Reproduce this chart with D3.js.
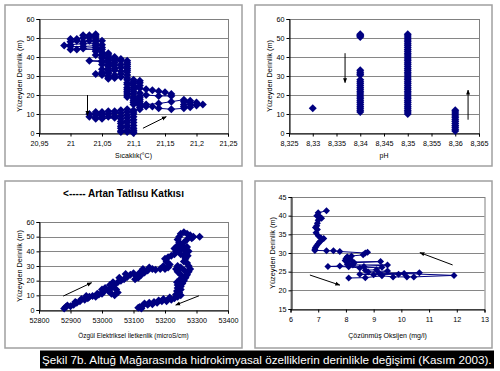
<!DOCTYPE html>
<html>
<head>
<meta charset="utf-8">
<script src="https://cdn.jsdelivr.net/npm/d3@7"></script>
<style>
  body { margin: 0; background: #fff; }
  text { font-family: "Liberation Sans", Arial, sans-serif; }
</style>
</head>
<body>
<svg id="chart" width="500" height="371"></svg>
<script>
// ---- data: [value, depth (m)] ----
var sicaklik = [
  [21.04,52],[21.03,51.5],[21.02,51.5],[21.03,50.5],[21.04,51],[21.04,50],[21.02,50],[21.01,49.5],[21.0,49.5],
  [21.01,48.5],[21.0,48],[21.02,48],[21.03,48.5],[21.04,49],[21.05,48.5],[21.04,48],[21.04,47],[21.02,47],
  [21.0,46.5],[20.99,46],[21.0,45.5],[21.02,45.5],[21.04,46],[21.05,46.5],[21.04,45],[21.02,44.5],[21.0,44],
  [21.01,44],[21.04,44],[21.05,45],[21.05,44],[21.04,43],[21.05,42.5],
  [21.06,42],[21.05,41.5],[21.04,41],[21.05,40.5],[21.06,41],[21.06,40],[21.05,39.5],[21.06,39],[21.07,40],
  [21.07,39],[21.08,39],[21.08,38],[21.07,38],[21.06,38],[21.05,38],[21.03,38],[21.05,37.5],[21.06,37],
  [21.07,37],[21.06,36],[21.05,36],[21.06,35],[21.07,35.5],[21.08,36],[21.08,34.5],[21.07,34],[21.06,34],
  [21.05,33.5],[21.06,33],[21.07,33],[21.06,32],[21.05,32],[21.06,31.5],[21.05,31],[21.04,31],[21.05,30.5],
  [21.06,30],[21.07,30.5],[21.07,29.5],[21.06,29],[21.06,28.5],[21.07,29],[21.08,29.5],[21.08,31],[21.08,32.5],
  [21.09,33],[21.09,35],[21.09,37],[21.09,38],[21.09,36],[21.09,34],[21.09,32],[21.09,30.5],[21.09,29],[21.09,28],
  [21.1,28],[21.1,27],[21.11,27.5],[21.11,26.5],[21.1,26],[21.09,26.5],[21.09,25.5],[21.1,25],[21.11,25],
  [21.1,24],[21.09,24],[21.09,23],[21.1,23],[21.11,23.5],[21.12,23],[21.13,22.5],[21.14,22],[21.15,21.5],
  [21.16,20.5],[21.16,19.5],[21.14,19.5],[21.12,20],[21.11,21],[21.1,22],[21.09,22],[21.09,21],[21.1,20.5],
  [21.09,20],[21.09,19],[21.1,19],[21.11,19.5],[21.11,18.5],[21.1,18],[21.11,17.5],[21.1,17],[21.11,16.5],
  [21.1,16],[21.11,15.5],[21.1,15],[21.11,14.5],[21.12,15],[21.14,15.5],[21.16,16.5],[21.18,17.5],[21.19,17],
  [21.18,16.5],[21.19,16],[21.2,16],[21.21,15],[21.2,14.5],[21.19,15],[21.18,15],[21.18,14],[21.19,13.5],
  [21.18,13],[21.16,12.5],[21.14,13],[21.13,14],[21.12,14],[21.11,13.5],[21.11,12.5],
  [21.1,12],[21.09,12.5],[21.08,12],[21.07,11.5],[21.06,11.5],[21.05,11],[21.04,11],[21.05,10.5],[21.04,10],
  [21.03,10],[21.04,9.5],[21.05,9.5],[21.06,10],[21.07,10.5],[21.08,10.5],[21.09,11],[21.1,11],[21.1,10],
  [21.09,9.5],[21.08,9],[21.07,9],[21.06,8.5],[21.05,8.5],[21.04,8],[21.03,8.5],[21.04,7.5],[21.05,7.5],
  [21.07,8],[21.08,7.5],[21.09,8],[21.1,8.5],[21.1,7],[21.09,6.5],[21.08,6],[21.08,5],[21.09,5.5],[21.1,5.5],
  [21.1,4],[21.09,4],[21.08,3.5],[21.08,2.5],[21.09,3],[21.1,2.5],[21.1,1.5],[21.09,1.5],[21.08,1],[21.08,0.5],
  [21.09,0.5],[21.1,0.5],[21.1,0]
];

// pH columns: depths measured at each pH value
var ph833 = [13];
var ph834 = [50.5,51,51.5,52, 30.5,31,32,33,
  11,12,13,14,15,16,17,18,19,20,21,22,23,24,25,26,27,28];
var ph835 = [10,11,12,13,14,15,16,17,18,19,20,21,22,23,24,25,26,27,28,29,30,31,
  32,33,34,35,36,37,38,39,40,41,42,43,44,45,46,47,48,49,50,51,52];
var ph836 = [1,2,3,4,5,6,7,8,9,10,11,12];

var iletkenlik = [
  [52880,1],[52885,2],[52890,3],[52900,2.5],[52910,3.5],[52915,5.5],[52920,5],[52930,6],[52935,7.5],
  [52945,7],[52955,8],[52950,9.5],[52960,9],[52970,9.5],[52980,9],[52985,11],[52990,10.5],[53000,11],
  [53005,12.5],[53000,14],[53010,15],[53020,13],[53030,11],[53040,10],[53050,12],[53045,14],[53030,15],
  [53025,17],[53040,17.5],[53035,19],[53050,19],[53060,20],[53055,22],[53070,21],[53080,22.5],[53075,24.5],
  [53090,24],[53100,25],[53110,23],[53105,21],[53115,22],[53120,25.5],[53125,24],[53135,25.5],[53130,28],
  [53145,27],[53150,29],[53160,28],[53170,27.5],[53185,28],[53200,28],[53195,30],[53210,29],[53215,31],
  [53205,33],[53200,35],[53210,36],[53220,37],[53230,38],[53235,40],[53230,42],[53240,44],[53245,46],
  [53240,48],[53245,50],[53250,52],[53260,53],[53270,52],[53280,51],[53290,50],[53310,50],[53285,49],
  [53270,48],[53260,46],[53255,44],[53250,42],[53245,40],[53250,38],[53260,37],[53268,39],[53262,41],
  [53270,43],[53275,40],[53272,37],[53265,35],[53260,33],[53270,32],[53275,30],[53280,28],[53275,26],
  [53262,27],[53250,29],[53240,30],[53235,28],[53240,26],[53250,24],[53265,23],[53270,24],[53265,22],
  [53260,20],[53248,21],[53238,19],[53240,17],[53255,18],[53250,16],[53240,15],[53238,13],[53250,14],
  [53245,12],[53250,10],[53240,9],[53235,10.5],[53230,8],[53220,7],[53215,8.5],[53205,6],[53190,6],
  [53195,7.5],[53175,5],[53180,6.5],[53160,4],[53165,5.5],[53145,3.5],[53150,5],[53130,3],[53135,4.5],
  [53120,2],[53115,1.5],[53125,1]
];

var oksijen = [
  [7.3,41.3],[7.0,40.8],[6.95,40],[7.05,39.8],[7.12,39.3],[7.0,38.8],[6.97,38],[6.95,37.3],[6.9,36.8],
  [6.97,36.3],[6.92,35.4],[7.0,34.6],[7.1,34],[7.2,33.9],[7.1,33.3],[7.05,33],[7.0,32.5],[6.95,32],
  [6.9,31.5],[6.88,31],[6.88,30.7],[7.3,30.6],[7.55,30.6],[7.78,30.4],[8.7,30],[8.78,30.2],[8.62,29.5],
  [8.2,29.2],[8.05,29],[8.0,28.5],[7.97,28],[8.05,27.6],[8.15,28.4],[8.25,27.6],[9.25,27.7],[8.3,27.4],
  [8.05,27.0],[8.25,26.8],[9.5,26.8],[8.65,26.4],[7.78,26.5],[7.35,26.4],[8.1,26.3],[8.5,26.0],[9.3,26.2],
  [9.1,25.5],[8.7,25.4],[8.8,24.9],[9.5,25.2],[9.2,24.6],[10.65,24.7],[8.5,24.3],[9.0,24.2],[9.9,24.3],
  [10.1,24.5],[11.9,24.0],[10.45,23.6],[10.2,23.6],[9.7,23.6],[9.3,23.9],[8.7,23.4],[8.1,23.3]
];

// tick values
var xTicksT = [20.95,21,21.05,21.1,21.15,21.2,21.25];
var xTicksPH = [8.325,8.33,8.335,8.34,8.345,8.35,8.355,8.36,8.365];
var xTicksEC = [52800,52900,53000,53100,53200,53300,53400];
var xTicksDO = [6,7,8,9,10,11,12,13];
var yTicks60 = [0,10,20,30,40,50,60];
var yTicksDO = [15,20,25,30,35,40,45];

var navy = "#000080";
var svg = d3.select("#chart");

// arrow head marker
svg.append("defs").append("marker")
    .attr("id", "arrow")
    .attr("viewBox", "0 0 10 10")
    .attr("refX", 9).attr("refY", 5)
    .attr("markerWidth", 5).attr("markerHeight", 5)
    .attr("orient", "auto")
  .append("path")
    .attr("d", "M0,1 L10,5 L0,9 Z")
    .attr("fill", "#000");

function diamond(r) {
    return "M0," + (-r) + "L" + r + ",0L0," + r + "L" + (-r) + ",0Z";
}

function commaFmt(v) {
    return String(+v.toFixed(3)).replace(".", ",");
}

function drawPanel(p) {
    var g = svg.append("g");
    var x = d3.scaleLinear().domain(p.xDomain).range([p.left, p.right]);
    var y = d3.scaleLinear().domain(p.yDomain).range([p.bottom, p.top]);

    // chart area frame
    g.append("rect")
        .attr("x", p.frame[0]).attr("y", p.frame[1])
        .attr("width", p.frame[2]).attr("height", p.frame[3])
        .attr("fill", "#fff").attr("stroke", "#a0a0a0").attr("stroke-width", 1.5);

    // horizontal gridlines
    g.selectAll(".grid").data(p.yTicks).enter().append("line")
        .attr("x1", p.left).attr("x2", p.right)
        .attr("y1", function (d) { return Math.round(y(d)) + 0.5; })
        .attr("y2", function (d) { return Math.round(y(d)) + 0.5; })
        .attr("stroke", "#868686").attr("stroke-width", 1);

    // plot area border
    g.append("rect")
        .attr("x", p.left + 0.5).attr("y", p.top + 0.5)
        .attr("width", p.right - p.left).attr("height", p.bottom - p.top)
        .attr("fill", "none").attr("stroke", "#808080");

    // axes
    var xAxis = g.append("g")
        .attr("transform", "translate(0," + (Math.round(p.bottom) + 0.5) + ")")
        .call(d3.axisBottom(x).tickValues(p.xTicks).tickSize(3).tickPadding(4).tickFormat(p.fmt));
    var yAxis = g.append("g")
        .attr("transform", "translate(" + (Math.round(p.left) + 0.5) + ",0)")
        .call(d3.axisLeft(y).tickValues(p.yTicks).tickSize(3).tickPadding(2).tickFormat(p.fmt));
    [xAxis, yAxis].forEach(function (a) {
        a.select(".domain").attr("stroke", "#000");
        a.selectAll(".tick line").attr("stroke", "#000");
        a.selectAll(".tick text").attr("font-size", 7.2).attr("fill", "#000")
            .style("font-family", "Liberation Sans, Arial, sans-serif");
    });

    // series
    if (p.line) {
        g.append("path")
            .datum(p.data)
            .attr("d", d3.line().x(function (d) { return x(d[0]); }).y(function (d) { return y(d[1]); }))
            .attr("fill", "none").attr("stroke", navy).attr("stroke-width", 1);
    }
    g.selectAll(".pt").data(p.data).enter().append("path")
        .attr("d", diamond(p.r))
        .attr("transform", function (d) { return "translate(" + x(d[0]) + "," + y(d[1]) + ")"; })
        .attr("fill", navy);

    // axis titles
    g.append("text")
        .attr("x", (p.left + p.right) / 2).attr("y", p.xLabelY)
        .attr("text-anchor", "middle").attr("font-size", p.xLabelSize || 7)
        .text(p.xLabel);
    g.append("text")
        .attr("transform", "translate(" + p.yLabelX + "," + ((p.top + p.bottom) / 2) + ") rotate(-90)")
        .attr("text-anchor", "middle").attr("dy", "0.35em").attr("font-size", 7.3)
        .text("Yüzeyden Derinlik (m)");

    // arrows
    (p.arrows || []).forEach(function (a) {
        g.append("line")
            .attr("x1", x(a[0])).attr("y1", y(a[1]))
            .attr("x2", x(a[2])).attr("y2", y(a[3]))
            .attr("stroke", "#000").attr("stroke-width", 1)
            .attr("marker-end", "url(#arrow)");
    });
    return g;
}

// flatten pH columns into point lists
var phData = [];
ph833.forEach(function (d) { phData.push([8.33, d]); });
ph834.forEach(function (d) { phData.push([8.34, d]); });
ph835.forEach(function (d) { phData.push([8.35, d]); });
ph836.forEach(function (d) { phData.push([8.36, d]); });

drawPanel({
    frame: [5, 5, 237, 161], left: 39, right: 228, top: 19, bottom: 133,
    xDomain: [20.95, 21.25], yDomain: [0, 60], xTicks: xTicksT, yTicks: yTicks60, fmt: commaFmt,
    data: sicaklik, line: true, r: 4,
    xLabel: "Sıcaklık(°C)", xLabelY: 158, yLabelX: 19,
    arrows: [[21.027, 20, 21.027, 9.2], [21.115, 2.5, 21.152, 8.6]]
});

drawPanel({
    frame: [255, 5, 237, 161], left: 289, right: 479, top: 19, bottom: 133,
    xDomain: [8.325, 8.365], yDomain: [0, 60], xTicks: xTicksPH, yTicks: yTicks60, fmt: commaFmt,
    data: phData, line: false, r: 4,
    xLabel: "pH", xLabelY: 158, yLabelX: 269,
    arrows: [[8.3368, 42, 8.3368, 26.5], [8.3627, 7, 8.3627, 22.6]]
});

var p3 = drawPanel({
    frame: [5, 181, 237, 167], left: 39, right: 228, top: 222, bottom: 310,
    xDomain: [52800, 53400], yDomain: [0, 60], xTicks: xTicksEC, yTicks: yTicks60, fmt: commaFmt,
    data: iletkenlik, line: true, r: 4,
    xLabel: "Özgül Elektriksel İletkenlik (microS/cm)", xLabelY: 337.5, xLabelSize: 6.4, yLabelX: 19,
    arrows: [[52877, 9.5, 52967, 18.6], [53308, 9.7, 53234, 3.4]]
});
p3.append("text")
    .attr("x", 123.5).attr("y", 196.5)
    .attr("text-anchor", "middle").attr("font-size", 10).attr("font-weight", "bold")
    .text("<----- Artan Tatlısu Katkısı");

drawPanel({
    frame: [255, 181, 237, 167], left: 290.5, right: 484.5, top: 197, bottom: 309,
    xDomain: [6, 13], yDomain: [15, 45], xTicks: xTicksDO, yTicks: yTicksDO, fmt: commaFmt,
    data: oksijen, line: true, r: 3.5,
    xLabel: "Çözünmüş Oksijen (mg/l)", xLabelY: 337.5, yLabelX: 272.5,
    arrows: [[11.85, 26.8, 10.67, 30.1], [6.7, 24.1, 7.78, 21.4]]
});

// caption: font size fitted so the natural text width matches the black band
svg.append("rect")
    .attr("x", 40).attr("y", 350.5).attr("width", 454).attr("height", 18)
    .attr("fill", "#000");
var caption = svg.append("text")
    .attr("x", 42).attr("y", 364)
    .attr("font-size", 12).attr("fill", "#fff")
    .text("Şekil 7b. Altuğ Mağarasında hidrokimyasal özelliklerin derinlikle değişimi (Kasım 2003).");
var capW = caption.node().getComputedTextLength();
caption.attr("font-size", Math.min(12.5, 12 * 450 / capW));
</script>
</body>
</html>
